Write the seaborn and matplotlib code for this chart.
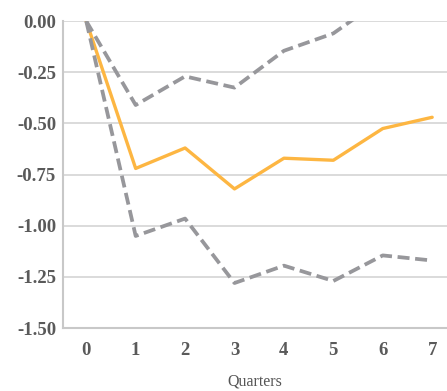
import matplotlib
matplotlib.use("Agg")
import matplotlib.pyplot as plt
import seaborn as sns
import pandas as pd

quarters = [0, 1, 2, 3, 4, 5, 6, 7]
median = [0.00, -0.72, -0.62, -0.82, -0.67, -0.68, -0.525, -0.47]
upper = [0.00, -0.41, -0.27, -0.325, -0.145, -0.06, 0.11, 0.15]
lower = [0.00, -1.05, -0.965, -1.28, -1.195, -1.27, -1.145, -1.17]
yticks = [0.00, -0.25, -0.50, -0.75, -1.00, -1.25, -1.50]

df = pd.DataFrame({"q": quarters, "median": median, "upper": upper, "lower": lower})

sns.set_style("white")
plt.rcParams["font.family"] = ["Liberation Serif", "DejaVu Serif"]

fig = plt.figure(figsize=(4.47, 3.91), dpi=100)
ax = fig.add_axes([0.141, 0.161, 0.859, 0.785])

orange = "#FDB642"
grey = "#97979B"
sns.lineplot(data=df, x="q", y="median", ax=ax, color=orange, linewidth=2.4, zorder=2)
for col in ["upper", "lower"]:
    sns.lineplot(data=df, x="q", y=col, ax=ax, color=grey, linewidth=2.7,
                 dashes=False, zorder=3, linestyle=(0, (3.2, 1.5)))

ax.set_xlim(-0.47, 7.3)
ax.set_ylim(-1.5, 0.0)
ax.set_yticks(yticks)
ax.set_yticklabels([f"{v:.2f}" for v in yticks])
ax.set_xticks(quarters)
ax.yaxis.grid(True, color="#D4D4D4", linewidth=1.2)
ax.set_axisbelow(True)

for s in ["top", "right"]:
    ax.spines[s].set_visible(False)
for s in ["left", "bottom"]:
    ax.spines[s].set_color("#C8C8C8")
    ax.spines[s].set_linewidth(1.5)

ax.tick_params(axis="both", length=0, labelsize=13.5, colors="#5A5A5A")
ax.tick_params(axis="y", pad=5)
ax.tick_params(axis="x", pad=10)
for lab in ax.get_xticklabels() + ax.get_yticklabels():
    lab.set_fontweight("bold")

ax.set_ylabel("")
ax.set_xlabel("Quarters", fontsize=11.5, color="#555555", labelpad=10.5)

fig.savefig("out.png", dpi=100)
